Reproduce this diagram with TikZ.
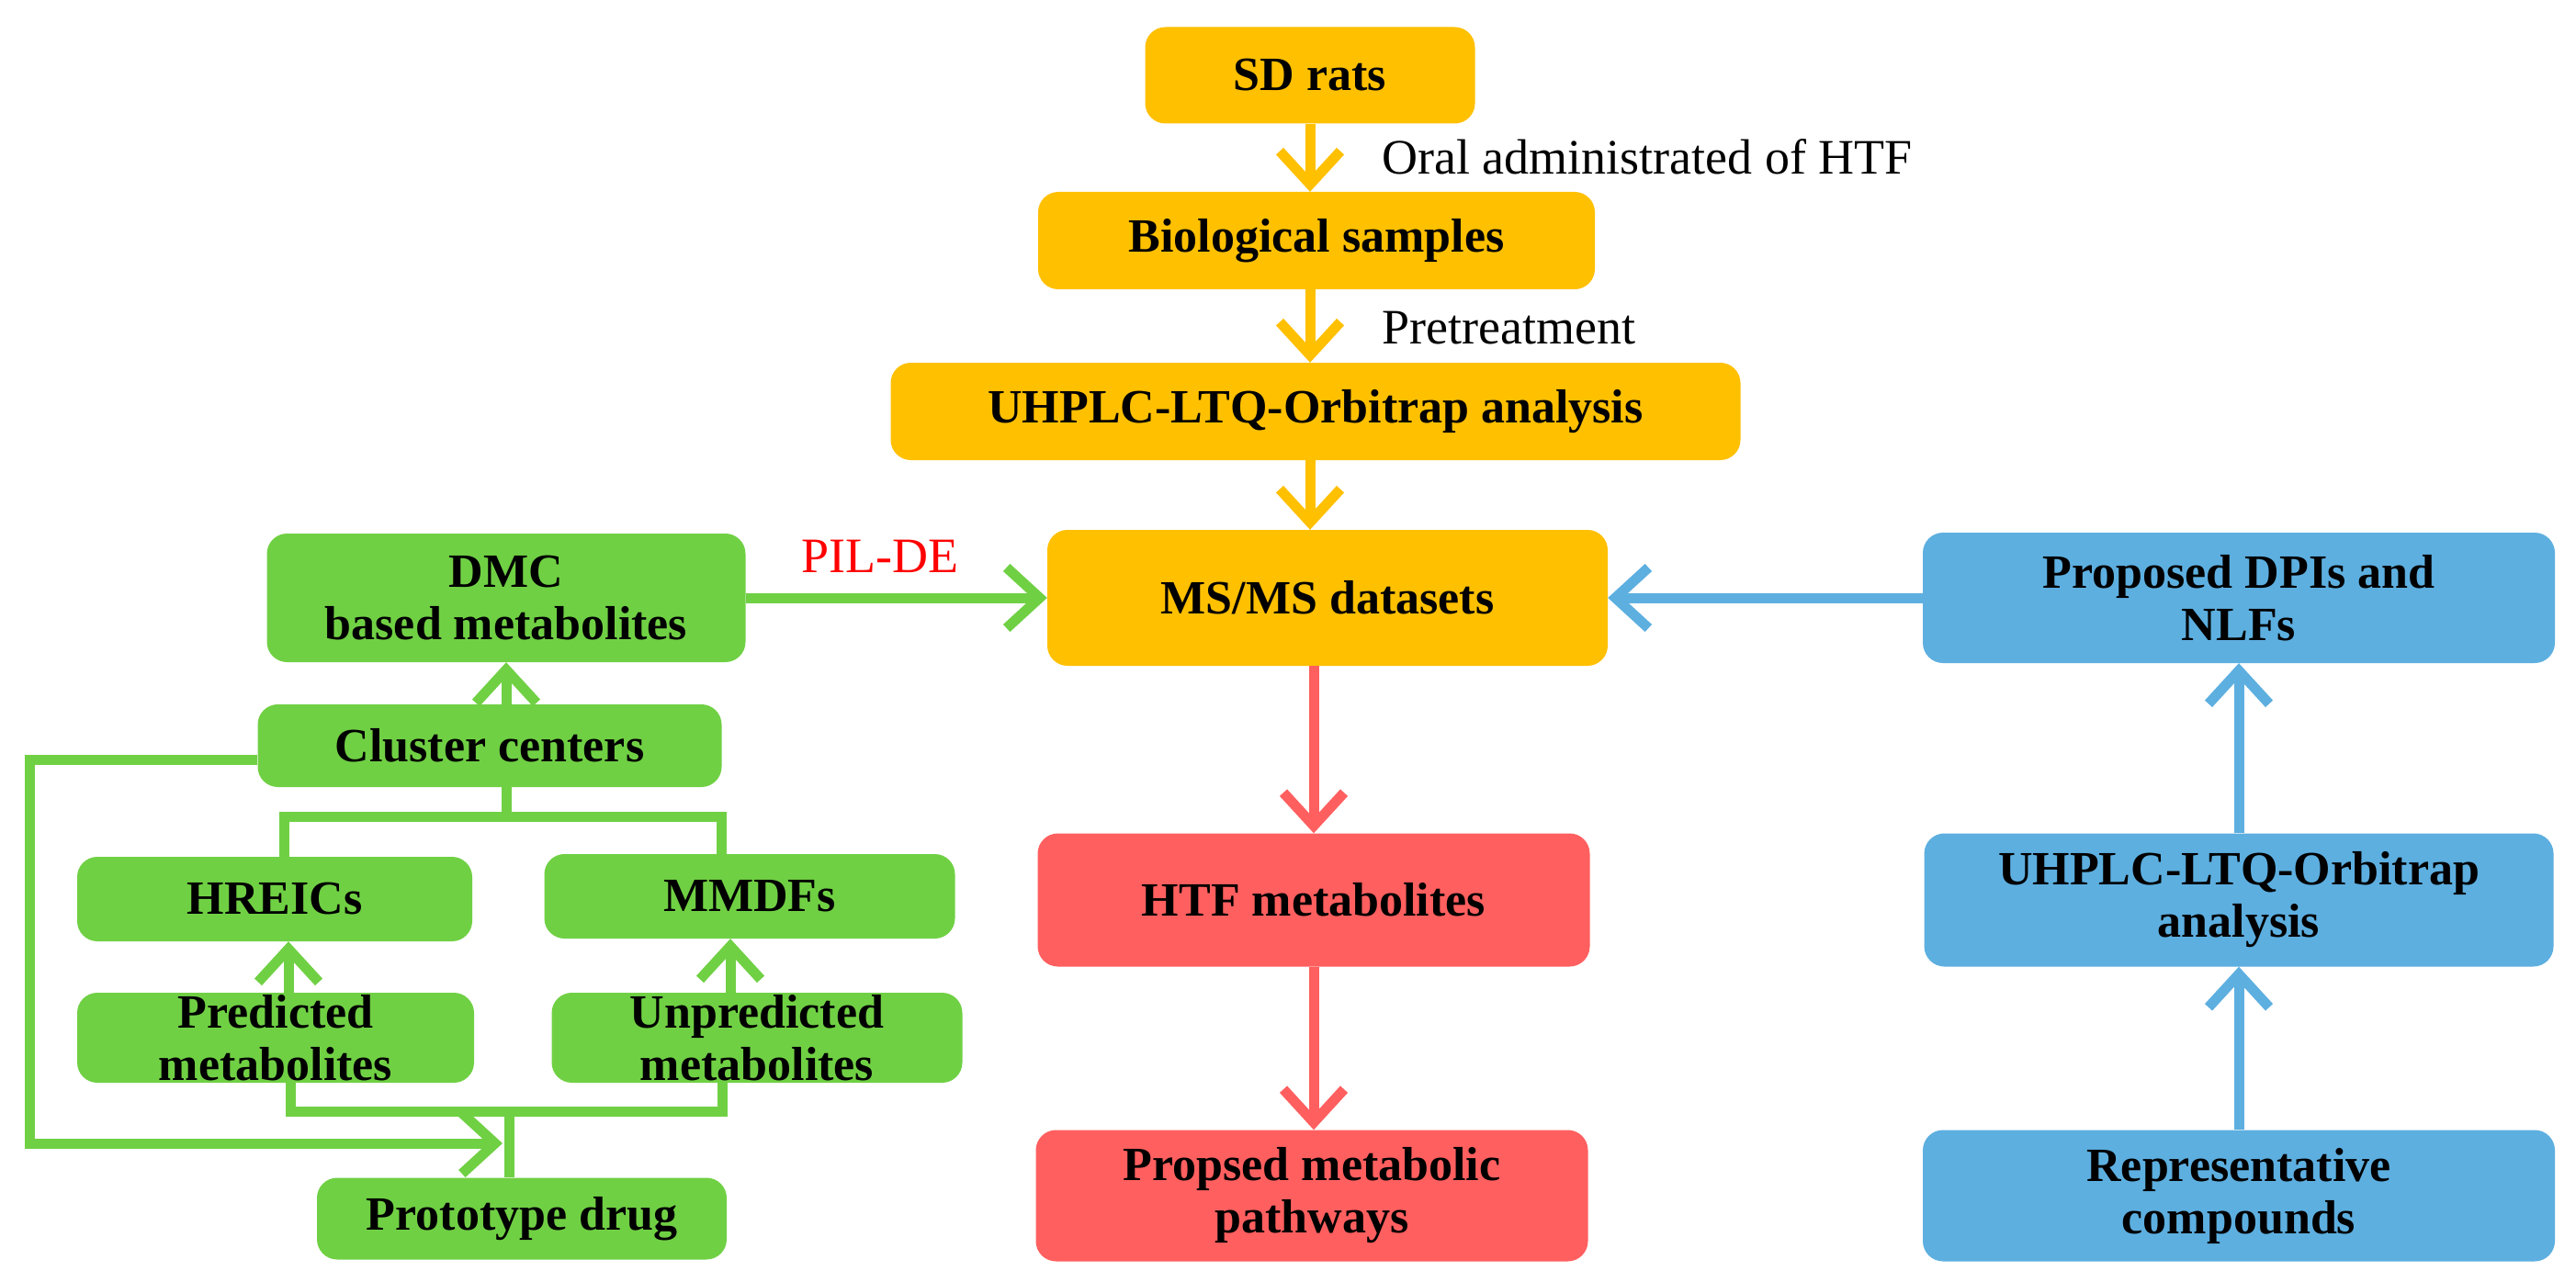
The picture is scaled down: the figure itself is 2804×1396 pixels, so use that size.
\documentclass[tikz,border=0pt]{standalone}
\usepackage{fontspec}
\setmainfont{Liberation Serif}
\usetikzlibrary{arrows.meta}
\definecolor{cor}{HTML}{FFC000}
\definecolor{cgr}{HTML}{70D044}
\definecolor{cre}{HTML}{FF5F5F}
\definecolor{cbl}{HTML}{5DAFE0}
\begin{document}
\begin{tikzpicture}[x=1pt,y=-1pt,
  box/.style={rounded corners=22pt,inner sep=0pt,align=center,text=black,
    font=\fontsize{52}{57}\selectfont\bfseries},
  lab/.style={font=\fontsize{54}{60}\selectfont,anchor=west,inner sep=0pt},
  con/.style={line width=11pt,-{Straight Barb[length=36pt,width=66pt,line width=11pt]}},
  ln/.style={line width=11pt}]
\fill[white] (0,0) rectangle (2804,1396);
\useasboundingbox (0,0) rectangle (2804,1396);
% orange
\node[box,fill=cor,minimum width=359pt,minimum height=105pt] (sd) at (1426,82) {SD rats};
\node[box,fill=cor,minimum width=606pt,minimum height=106pt] (bio) at (1433,262) {Biological samples};
\node[box,fill=cor,minimum width=925pt,minimum height=106pt] (uh) at (1432,448) {UHPLC-LTQ-Orbitrap analysis};
\node[box,fill=cor,minimum width=610pt,minimum height=148pt] (ms) at (1445,651) {MS/MS datasets};
% red
\node[box,fill=cre,minimum width=601pt,minimum height=145pt] (htf) at (1430,980) {HTF metabolites};
\node[box,fill=cre,minimum width=601pt,minimum height=143pt] (pw) at (1428,1302) {Propsed metabolic\\pathways};
% blue
\node[box,fill=cbl,minimum width=688pt,minimum height=142pt] (dpi) at (2437,651) {Proposed DPIs and\\NLFs};
\node[box,fill=cbl,minimum width=685pt,minimum height=145pt] (uh2) at (2437,980) {UHPLC-LTQ-Orbitrap\\analysis};
\node[box,fill=cbl,minimum width=688pt,minimum height=143pt] (rep) at (2437,1302) {Representative\\compounds};
% green
\node[box,fill=cgr,minimum width=521pt,minimum height=140pt] (dmc) at (551,651) {DMC\\based metabolites};
\node[box,fill=cgr,minimum width=505pt,minimum height=90pt] (cl) at (533,812) {Cluster centers};
\node[box,fill=cgr,minimum width=430pt,minimum height=92pt] (hr) at (299,979) {HREICs};
\node[box,fill=cgr,minimum width=447pt,minimum height=92pt] (mm) at (816,976) {MMDFs};
\node[box,fill=cgr,minimum width=432pt,minimum height=98pt] (pr) at (300,1130) {Predicted\\metabolites};
\node[box,fill=cgr,minimum width=447pt,minimum height=98pt] (up) at (824,1130) {Unpredicted\\metabolites};
\node[box,fill=cgr,minimum width=446pt,minimum height=89pt] (pt) at (568,1327) {Prototype drug};
% labels
\node[lab] (l1) at (1504,171) {Oral administrated of HTF};
\node[lab] (l2) at (1504,357) {Pretreatment};
\node[lab,text=red,anchor=center] (l3) at (958,606) {PIL-DE};
% orange arrows
\draw[con,cor] (sd.south) -- (sd.south |- bio.north);
\draw[con,cor] (sd.south |- bio.south) -- (sd.south |- uh.north);
\draw[con,cor] (sd.south |- uh.south) -- (sd.south |- ms.north);
% red arrows
\draw[con,cre] (htf.north |- ms.south) -- (htf.north);
\draw[con,cre] (htf.south) -- (htf.south |- pw.north);
% blue arrows
\draw[con,cbl] (dpi.west) -- (ms.east);
\draw[con,cbl] (rep.north) -- (uh2.south);
\draw[con,cbl] (uh2.north) -- (dpi.south);
% green
\coordinate (j1) at (551,889);
\coordinate (jl) at (309,0);
\coordinate (jr) at (785,0);
\coordinate (a1) at (314,0);
\coordinate (a2) at (795,0);
\coordinate (bl) at (316,0);
\coordinate (br) at (786,0);
\coordinate (j2) at (554,1210);
\coordinate (lc) at (32,1245);
\coordinate (tip) at (547,1245);
\draw[con,cgr] (dmc.east) -- (ms.west);
\draw[con,cgr] (dmc.south |- cl.north) -- (dmc.south);
\draw[ln,cgr] (cl.south -| j1) -- (j1);
\draw[ln,cgr] (hr.north -| jl) |- (j1) -| (mm.north -| jr);
\draw[con,cgr] (pr.north -| a1) -- (hr.south -| a1);
\draw[con,cgr] (up.north -| a2) -- (mm.south -| a2);
\draw[ln,cgr] (pr.south -| bl) |- (j2) -| (up.south -| br);
\draw[ln,cgr] (pt.north -| j2) -- (j2);
\draw[con,cgr] ([yshift=-15pt]cl.west) -| (lc) -- (tip);
\end{tikzpicture}
\end{document}
